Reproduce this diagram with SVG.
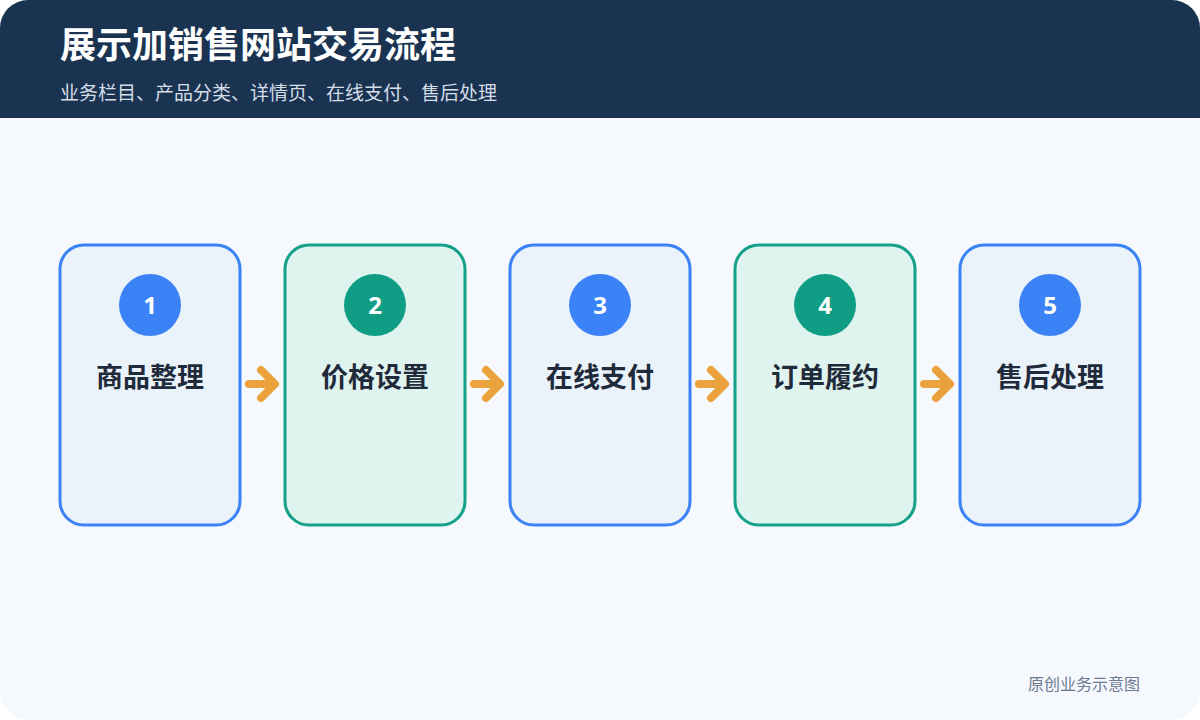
<svg xmlns="http://www.w3.org/2000/svg" width="1200" height="720" viewBox="0 0 1200 720">
<defs>
<style>
.cjk{font-family:"Noto Sans CJK SC","Noto Sans",sans-serif}
.box-b{fill:#eaf2fa;stroke:#3b82f6;stroke-width:3}
.box-g{fill:#dff3ef;stroke:#14a08a;stroke-width:3}
.c-b{fill:#3b82f6}
.c-g{fill:#0f9d86}
.num{font-family:"Noto Sans","Open Sans",sans-serif;font-size:24px;font-weight:700;fill:#fff;text-anchor:middle}
.lbl{font-size:27px;font-weight:700;fill:#1f2a3a;text-anchor:middle}
.arr{fill:none;stroke:#eba23c;stroke-width:8;stroke-linecap:round;stroke-linejoin:round}
</style>
<clipPath id="page"><rect x="0" y="0" width="1200" height="720" rx="28"/></clipPath>
</defs>
<rect width="1200" height="720" fill="#ffffff"/>
<g clip-path="url(#page)">
<rect x="0" y="0" width="1200" height="720" fill="#f5f9fe"/>
<rect x="0" y="0" width="1200" height="118" fill="#1a3350"/>
</g>
<g id="header">
<text x="60" y="58" class="cjk" font-size="36" font-weight="700" fill="#ffffff">展示加销售网站交易流程</text>
<text x="60" y="100" class="cjk" font-size="19" fill="#d5dee9">业务栏目、产品分类、详情页、在线支付、售后处理</text>
</g>
<g id="connectors">
<path class="arr" d="M249 384H274M261 370L275 384L261 398"/>
<path class="arr" d="M474 384H499M486 370L500 384L486 398"/>
<path class="arr" d="M699 384H724M711 370L725 384L711 398"/>
<path class="arr" d="M924 384H949M936 370L950 384L936 398"/>
</g>
<g id="node1">
<rect class="box-b" x="60" y="245" width="180" height="280" rx="24"/>
<circle class="c-b" cx="150" cy="305" r="31"/>
<text class="num" x="150" y="314">1</text>
<text class="lbl cjk" x="150" y="387">商品整理</text>
</g>
<g id="node2">
<rect class="box-g" x="285" y="245" width="180" height="280" rx="24"/>
<circle class="c-g" cx="375" cy="305" r="31"/>
<text class="num" x="375" y="314">2</text>
<text class="lbl cjk" x="375" y="387">价格设置</text>
</g>
<g id="node3">
<rect class="box-b" x="510" y="245" width="180" height="280" rx="24"/>
<circle class="c-b" cx="600" cy="305" r="31"/>
<text class="num" x="600" y="314">3</text>
<text class="lbl cjk" x="600" y="387">在线支付</text>
</g>
<g id="node4">
<rect class="box-g" x="735" y="245" width="180" height="280" rx="24"/>
<circle class="c-g" cx="825" cy="305" r="31"/>
<text class="num" x="825" y="314">4</text>
<text class="lbl cjk" x="825" y="387">订单履约</text>
</g>
<g id="node5">
<rect class="box-b" x="960" y="245" width="180" height="280" rx="24"/>
<circle class="c-b" cx="1050" cy="305" r="31"/>
<text class="num" x="1050" y="314">5</text>
<text class="lbl cjk" x="1050" y="387">售后处理</text>
</g>
<g id="footer">
<text x="1140" y="690" class="cjk" font-size="16" fill="#6b7a90" text-anchor="end">原创业务示意图</text>
</g>
</svg>
